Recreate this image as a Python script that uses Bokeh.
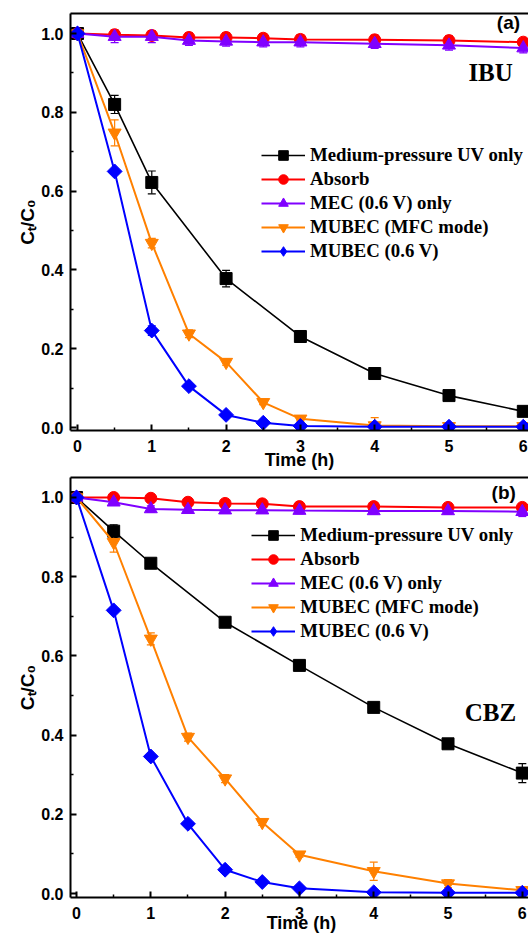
import math
from bokeh.plotting import figure
from bokeh.layouts import column
from bokeh.models import (Range1d, FixedTicker, LinearAxis, Legend, LegendItem, Label,
                          Whisker, ColumnDataSource, TeeHead, PrintfTickFormatter)
from bokeh.embed import file_html
from bokeh.resources import INLINE

# ---------------- data ----------------
series_names = ["Medium-pressure UV only", "Absorb", "MEC (0.6 V) only",
                "MUBEC (MFC mode)", "MUBEC (0.6 V)"]
series_colors = ["#000000", "#FF0000", "#8000FF", "#FF8000", "#0000FF"]
series_markers = ["square", "circle", "triangle", "inverted_triangle", "diamond"]

t_uv = [0, 0.5, 1, 2, 3, 4, 5, 6]
t_all = [0, 0.5, 1, 1.5, 2, 2.5, 3, 4, 5, 6]

# IBU (panel a)
ibu_uv = [1.0, 0.82, 0.622, 0.378, 0.231, 0.137, 0.081, 0.041]
ibu_uv_err = [0.004, 0.023, 0.029, 0.021, 0.012, 0.006, 0.006, 0.008]
ibu_abs = [1.0, 0.997, 0.995, 0.990, 0.990, 0.988, 0.985, 0.984, 0.982, 0.978]
ibu_abs_err = [0.005, 0.012, 0.012, 0.012, 0.012, 0.012, 0.012, 0.012, 0.012, 0.008]
ibu_mec = [1.0, 0.992, 0.992, 0.982, 0.980, 0.978, 0.978, 0.974, 0.970, 0.963]
ibu_mec_err = [0.005, 0.015, 0.015, 0.012, 0.012, 0.012, 0.012, 0.012, 0.012, 0.012]
ibu_mfc = [1.0, 0.748, 0.468, 0.238, 0.166, 0.064, 0.022, 0.005, 0.003, 0.003]
ibu_mfc_err = [0.004, 0.033, 0.012, 0.010, 0.008, 0.006, 0.006, 0.020, 0.006, 0.006]
ibu_mubec = [1.0, 0.65, 0.246, 0.105, 0.032, 0.012, 0.004, 0.002, 0.002, 0.002]
ibu_mubec_err = [0.004, 0.006, 0.012, 0.006, 0.006, 0.004, 0.004, 0.004, 0.004, 0.004]

# CBZ (panel b)
cbz_uv = [1.0, 0.915, 0.834, 0.685, 0.576, 0.47, 0.378, 0.304]
cbz_uv_err = [0.004, 0.016, 0.010, 0.008, 0.008, 0.008, 0.008, 0.024]
cbz_abs = [1.0, 1.0, 0.998, 0.988, 0.985, 0.984, 0.977, 0.977, 0.975, 0.975]
cbz_abs_err = [0.004, 0.008, 0.008, 0.008, 0.008, 0.008, 0.008, 0.008, 0.008, 0.008]
cbz_mec = [1.0, 0.988, 0.971, 0.969, 0.968, 0.968, 0.967, 0.966, 0.966, 0.964]
cbz_mec_err = [0.004, 0.008, 0.008, 0.008, 0.008, 0.008, 0.008, 0.008, 0.008, 0.012]
cbz_mfc = [1.0, 0.887, 0.643, 0.395, 0.29, 0.18, 0.098, 0.056, 0.025, 0.008]
cbz_mfc_err = [0.004, 0.025, 0.015, 0.010, 0.010, 0.008, 0.006, 0.023, 0.010, 0.008]
cbz_mubec = [1.0, 0.715, 0.346, 0.176, 0.06, 0.029, 0.013, 0.003, 0.002, 0.002]
cbz_mubec_err = [0.004, 0.005, 0.005, 0.005, 0.005, 0.005, 0.005, 0.005, 0.005, 0.005]

y_ticks = [0.0, 0.2, 0.4, 0.6, 0.8, 1.0]
y_minor = [0.1, 0.3, 0.5, 0.7, 0.9]
x_ticks = [0, 1, 2, 3, 4, 5, 6]
x_minor = [0.5, 1.5, 2.5, 3.5, 4.5, 5.5]

x_title = "Time (h)"
y_title = "C\u209c/C\u2080"

SANS = "Liberation Sans"
SERIF = "Liberation Serif"


def make_panel(series, xr, yr, frame_w, frame_h, b_left, b_top, xlab_standoff,
               legend_loc, tag, tag_xy, name, name_xy):
    p = figure(width=528, output_backend="svg", toolbar_location=None,
               frame_width=frame_w, frame_height=frame_h,
               x_range=Range1d(*xr), y_range=Range1d(*yr),
               min_border_left=b_left, min_border_right=0,
               min_border_top=b_top, min_border_bottom=0,
               x_axis_label=x_title, y_axis_label=y_title)
    p.outline_line_color = None
    p.grid.visible = False
    p.background_fill_color = "white"
    p.border_fill_color = "white"

    for ax in (p.xaxis[0], p.yaxis[0]):
        ax.axis_line_width = 2
        ax.major_tick_line_width = 2
        ax.minor_tick_line_width = 1.5
        ax.major_tick_in = 6
        ax.major_tick_out = 0
        ax.minor_tick_in = 3
        ax.minor_tick_out = 0
        ax.major_label_text_font = SANS
        ax.major_label_text_font_style = "bold"
        ax.major_label_text_font_size = "16px"
        ax.major_label_text_color = "black"
        ax.axis_label_text_font = SANS
        ax.axis_label_text_font_style = "bold"
        ax.axis_label_text_font_size = "18px"
        ax.axis_label_text_color = "black"
    p.yaxis[0].ticker = FixedTicker(ticks=y_ticks, minor_ticks=y_minor)
    p.yaxis[0].formatter = PrintfTickFormatter(format="%.1f")
    p.yaxis[0].major_label_standoff = 7
    p.yaxis[0].axis_label_standoff = 0
    p.yaxis[0].axis_label_text_font_size = "19px"
    p.xaxis[0].ticker = FixedTicker(ticks=x_ticks, minor_ticks=x_minor)
    p.xaxis[0].formatter = PrintfTickFormatter(format="%d")
    p.xaxis[0].major_label_standoff = 9
    p.xaxis[0].axis_label_standoff = xlab_standoff

    top = LinearAxis(ticker=FixedTicker(ticks=[]), axis_line_width=2,
                     major_tick_line_color=None, minor_tick_line_color=None,
                     major_tick_in=0, major_tick_out=0, minor_tick_in=0, minor_tick_out=0,
                     major_label_standoff=0, major_label_text_font_size="0px")
    p.add_layout(top, "above")

    items = []
    for (tx, vals, errs), nm, col, mk in zip(series, series_names, series_colors, series_markers):
        src = ColumnDataSource(dict(x=tx, y=vals,
                                    lo=[v - e for v, e in zip(vals, errs)],
                                    hi=[v + e for v, e in zip(vals, errs)]))
        w = Whisker(source=src, base="x", lower="lo", upper="hi",
                    line_color=col, line_width=1.2,
                    upper_head=TeeHead(size=8, line_color=col, line_width=1.2),
                    lower_head=TeeHead(size=8, line_color=col, line_width=1.2))
        p.add_layout(w)
        lw = 1.6 if col == "#000000" else 2
        lr = p.line("x", "y", source=src, line_color=col, line_width=lw)
        if mk == "diamond":
            # equal-sided diamond in the plot: a square turned by 45 degrees
            p.scatter("x", "y", source=src, marker="square", size=10.5,
                      angle=math.pi / 4, fill_color=col, line_color=col)
            # legend-only glyph, its single point lies outside the visible ranges
            sr = p.scatter(x=[-100.0], y=[-100.0], marker="diamond",
                           fill_color=col, line_color=col)
        else:
            size = {"square": 12, "circle": 12, "triangle": 13,
                    "inverted_triangle": 13}[mk]
            sr = p.scatter("x", "y", source=src, marker=mk, size=size,
                           fill_color=col, line_color=col)
        items.append(LegendItem(label=nm, renderers=[lr, sr]))

    leg = Legend(items=items, location=legend_loc, orientation="vertical",
                 border_line_color=None, background_fill_alpha=0,
                 padding=0, margin=0, spacing=0,
                 glyph_width=44, glyph_height=24, label_standoff=5,
                 label_height=20,
                 label_text_font=SERIF, label_text_font_style="bold",
                 label_text_font_size="18.8px", label_text_color="black")
    p.add_layout(leg)

    p.add_layout(Label(x=tag_xy[0], y=tag_xy[1], text=tag, text_font=SANS,
                       text_font_style="bold", text_font_size="19px",
                       text_align="center", text_baseline="middle", text_color="black"))
    p.add_layout(Label(x=name_xy[0], y=name_xy[1], text=name, text_font=SERIF,
                       text_font_style="bold", text_font_size="25px",
                       text_align="center", text_baseline="middle", text_color="black"))
    return p


series_a = [(t_uv, ibu_uv, ibu_uv_err), (t_all, ibu_abs, ibu_abs_err),
            (t_all, ibu_mec, ibu_mec_err), (t_all, ibu_mfc, ibu_mfc_err),
            (t_all, ibu_mubec, ibu_mubec_err)]
series_b = [(t_uv, cbz_uv, cbz_uv_err), (t_all, cbz_abs, cbz_abs_err),
            (t_all, cbz_mec, cbz_mec_err), (t_all, cbz_mfc, cbz_mfc_err),
            (t_all, cbz_mubec, cbz_mubec_err)]

pa = make_panel(series_a, (-0.094, 6.07), (-0.0076, 1.0508), 458, 417, 70, 13, -5,
                (191, 167), "(a)", (5.8, 1.028), "IBU", (5.56, 0.901))
pb = make_panel(series_b, (-0.081, 6.137), (-0.0101, 1.0505), 462, 420, 66, 5, -9,
                (192, 254), "(b)", (5.75, 1.013), "CBZ", (5.57, 0.457))

layout = column(pa, pb, spacing=0)
open("out.html", "w").write(file_html(layout, INLINE))
